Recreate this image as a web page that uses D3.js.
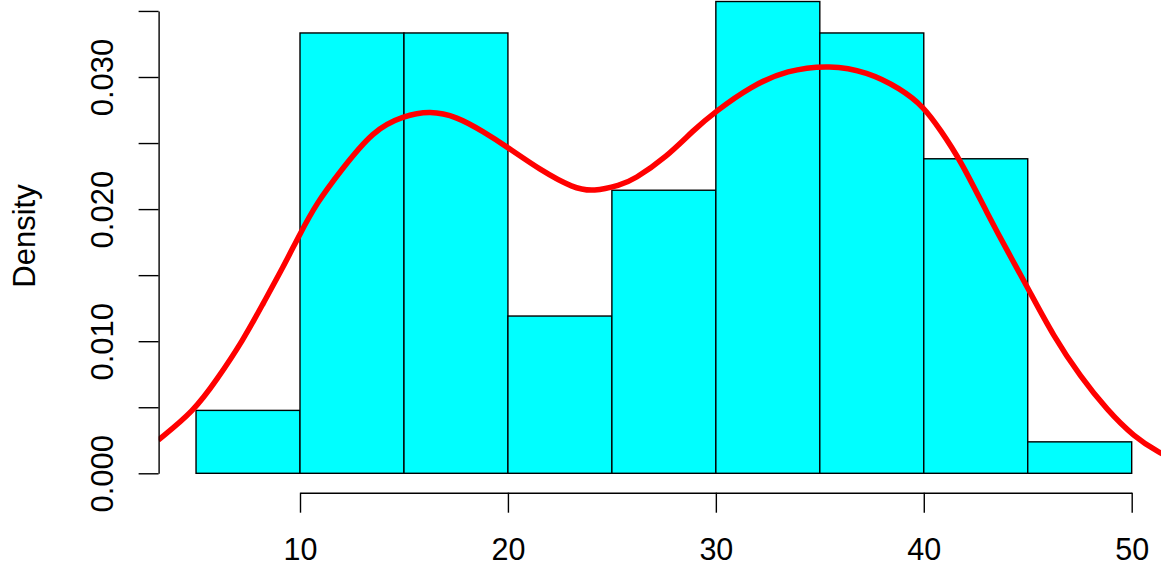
<!DOCTYPE html>
<head>
    <meta charset="utf-8">
    <title>Histogram with density</title>
    <script src="https://d3js.org/d3.v7.min.js"></script>
    <style>
        body { margin: 0; background: #fff; }
        svg { display: block; font-family: "Liberation Sans", Arial, Helvetica, sans-serif; }
    </style>
</head>
<body>
    <script>
        // histogram: bin edges and counts per bin
        const breaks = [5, 10, 15, 20, 25, 30, 35, 40, 45, 50]
        const counts = [2, 14, 14, 5, 9, 15, 14, 10, 1]

        // kernel density estimate
        const densX = [3.18, 4.87, 5.99, 7.27, 8.23, 9.20, 9.97, 10.80, 11.92, 13.53, 14.97, 16.26, 17.54, 18.82,
                       19.95, 21.55, 23.16, 24.12, 25.40, 26.03, 27.65, 28.93, 29.97, 31.65, 33.42, 35.50, 37.27,
                       38.87, 40.00, 40.80, 41.76, 43.05, 44.17, 44.97, 46.25, 47.54, 48.82, 50.10, 51.38, 51.80]
        const densY = [0.00252, 0.00466, 0.00706, 0.01009, 0.01287, 0.01564, 0.01804, 0.02046, 0.02283, 0.02599,
                       0.02705, 0.02745, 0.02700, 0.02586, 0.02472, 0.02296, 0.02157, 0.02132, 0.02182, 0.02220,
                       0.02397, 0.02599, 0.02737, 0.02927, 0.03053, 0.03091, 0.03040, 0.02914, 0.02775, 0.02599,
                       0.02372, 0.01968, 0.01640, 0.01413, 0.01034, 0.00731, 0.00479, 0.00277, 0.00151, 0.00125]

        const xTicks = [10, 20, 30, 40, 50]
        const yTicks = [0, 0.005, 0.01, 0.015, 0.02, 0.025, 0.03, 0.035]
        const yLabels = [0, 0.01, 0.02, 0.03]

        const width = 1161
        const height = 567
        const fontSize = 31

        const n = d3.sum(counts)
        const bins = counts.map((c, i) => ({
            x0: breaks[i],
            x1: breaks[i + 1],
            density: c / (n * (breaks[i + 1] - breaks[i]))
        }))
        const dens = densX.map((x, i) => ({ x: x, y: densY[i] }))

        const vis = d3.select("body").append("svg")
            .attr("width", width)
            .attr("height", height)

        const x = d3.scaleLinear().domain([10, 50]).range([300, 1131.7])
        const y = d3.scaleLinear().domain([0, 0.035]).range([473.3, 10.95])

        // plot region (R usr: breaks range + 4%)
        vis.append("clipPath").attr("id", "plot")
            .append("rect")
                .attr("x", x(3.2)).attr("y", y(0.0371))
                .attr("width", x(51.8) - x(3.2)).attr("height", y(-0.00143) - y(0.0371))

        vis.append("g")
            .selectAll("rect")
            .data(bins)
            .join("rect")
                .attr("x", (d) => x(d.x0))
                .attr("y", (d) => y(d.density))
                .attr("width", (d) => x(d.x1) - x(d.x0))
                .attr("height", (d) => y(0) - y(d.density))
                .attr("fill", "#00ffff")
                .attr("stroke", "#000")
                .attr("stroke-width", 1.4)

        // basis spline smooths out the reading noise of the points
        const line = d3.line()
            .x((d) => x(d.x))
            .y((d) => y(d.y))
            .curve(d3.curveBasis)

        vis.append("path")
            .datum(dens)
            .attr("clip-path", "url(#plot)")
            .attr("d", line)
            .attr("fill", "none")
            .attr("stroke", "#ff0000")
            .attr("stroke-width", 5.5)

        const yAxis = vis.append("g")
            .attr("transform", `translate(${x(3.2)}, 0)`)
            .call(d3.axisLeft(y)
                .tickValues(yTicks)
                .tickSize(20)
                .tickSizeOuter(0)
                .tickFormat((d) => yLabels.some((v) => Math.abs(v - d) < 1e-9) ? d3.format(".3f")(d) : ""))
        yAxis.selectAll("path, line").attr("stroke", "#000").attr("stroke-width", 1.4)
        yAxis.selectAll("text")
            .attr("font-size", fontSize)
            .attr("font-family", null)
            .attr("fill", "#000")
            .attr("x", null).attr("dy", null)
            .attr("text-anchor", "middle")
            .attr("transform", "translate(-46, 0) rotate(-90)")

        const xAxis = vis.append("g")
            .attr("transform", `translate(0, 492.7)`)
            .call(d3.axisBottom(x)
                .tickValues(xTicks)
                .tickSize(20)
                .tickSizeOuter(0)
                .tickFormat(d3.format("d")))
        xAxis.selectAll("path, line").attr("stroke", "#000").attr("stroke-width", 1.4)
        xAxis.selectAll("text")
            .attr("font-size", 30.5)
            .attr("font-family", null)
            .attr("fill", "#000")
            .attr("y", 67.8).attr("dy", null)

        vis.append("text")
            .text("Density")
            .attr("font-size", fontSize)
            .attr("text-anchor", "middle")
            .attr("transform", "translate(35, 236) rotate(-90)")
    </script>
</body>
